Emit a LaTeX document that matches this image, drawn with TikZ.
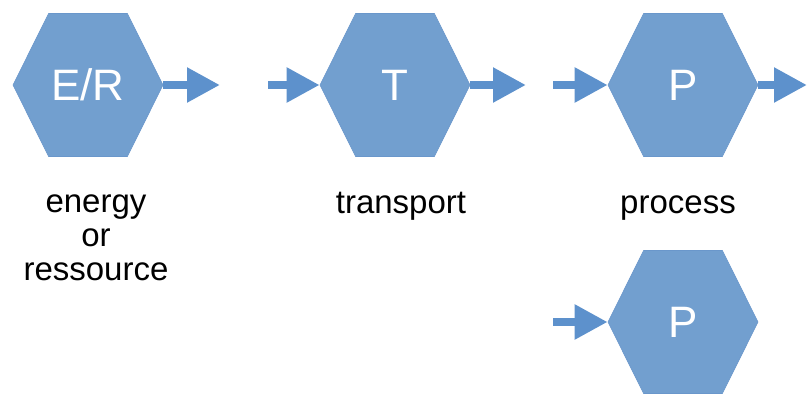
\documentclass[tikz,border=0pt]{standalone}
\usepackage{fontspec}
\setmainfont{Liberation Sans}
\usetikzlibrary{shapes.symbols,arrows.meta,positioning}
\definecolor{hexblue}{HTML}{729FCF}
\definecolor{hexedge}{HTML}{6A97CB}
\definecolor{flowblue}{HTML}{5D91CC}

\begin{document}
\begin{tikzpicture}[x=1pt,y=-1pt,
  hexnode/.style={shape=signal,signal to=west and east,signal pointer angle=127,
    fill=hexblue,draw=hexedge,line width=0.6pt,text=white,
    minimum width=150pt,minimum height=143pt,inner sep=0pt,
    font=\fontsize{44}{50}\selectfont},
  flow/.style={draw=flowblue,line width=8.5pt,-{Triangle[length=33pt,width=33pt]}},
  caption/.style={align=center,anchor=base,font=\fontsize{33}{34}\selectfont}]
\useasboundingbox (0,0) rectangle (807,394);

% hexagons
\node[hexnode] (er) at (88,85) {E/R};
\node[hexnode] (tr) at (395,85) {\raisebox{-3pt}{T}};
\node[hexnode] (pr) at (683,85) {\raisebox{-3pt}{P}};
\node[hexnode] (pr2) at (683,322) {\raisebox{-3pt}{P}};

% captions (base = last line)
\node[caption] (er-txt) at (96,280) {energy\\or\\ressource};
\node[caption] (tr-txt) at (401,213) {transport};
\node[caption] (pr-txt) at (678,213) {process};

% free ends
\coordinate (er-out) at (220,85);
\coordinate (tr-in) at (268,85);
\coordinate (tr-out) at (526,85);
\coordinate (pr-in) at (553,85);
\coordinate (pr-out) at (807,85);
\coordinate (pr2-in) at (553,322);

\draw[flow] (er.east) -- (er-out);
\draw[flow] (tr-in) -- (tr.west);
\draw[flow] (tr.east) -- (tr-out);
\draw[flow] (pr-in) -- (pr.west);
\draw[flow] (pr.east) -- (pr-out);
\draw[flow] (pr2-in) -- (pr2.west);
\end{tikzpicture}
\end{document}
